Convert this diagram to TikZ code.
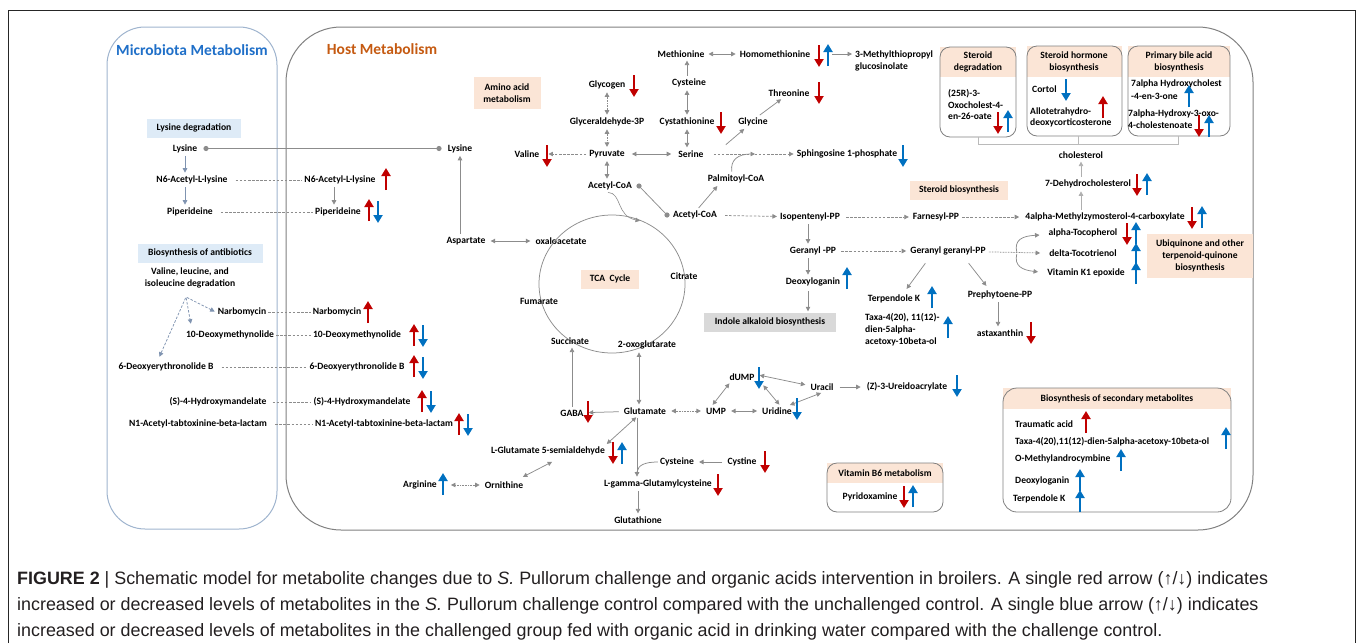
\documentclass[tikz,border=0pt]{standalone}
\usepackage{fontspec}
\setmainfont{Carlito}
\newfontfamily\capfont{Liberation Sans}
\usetikzlibrary{arrows.meta,calc}
\definecolor{peach}{HTML}{FBE5D6}
\definecolor{lblue}{HTML}{DEEBF7}
\definecolor{indgrey}{HTML}{D9D9D9}
\definecolor{redA}{HTML}{C00000}
\definecolor{blueA}{HTML}{0070C0}
\definecolor{conn}{HTML}{8C8C8C}
\definecolor{slate}{HTML}{7F93B0}
\definecolor{mbord}{HTML}{9FB4CE}
\definecolor{hbord}{HTML}{808080}
\definecolor{mtc}{HTML}{1F6FC8}
\definecolor{htc}{HTML}{C55A11}
\definecolor{capc}{HTML}{231F20}
\newcommand{\RUp}[2]{\draw[indic,redA] (#1,#2+11) -- (#1,#2-11);}
\newcommand{\RDn}[2]{\draw[indic,redA] (#1,#2-11) -- (#1,#2+11);}
\newcommand{\BUp}[2]{\draw[indic,blueA] (#1,#2+11) -- (#1,#2-11);}
\newcommand{\BDn}[2]{\draw[indic,blueA] (#1,#2-11) -- (#1,#2+11);}
\tikzset{
 t/.style={font=\bfseries\fontsize{9.6}{12}\selectfont, inner sep=2pt, align=center},
 tl/.style={t, align=left, anchor=west},
 cbase/.style={draw=conn, line width=0.75pt, shorten >=1pt, shorten <=1pt},
 ar/.style={cbase, -{Triangle[length=4.5pt,width=4.5pt]}},
 dar/.style={cbase, {Triangle[length=4.5pt,width=4.5pt]}-{Triangle[length=4.5pt,width=4.5pt]}},
 mar/.style={ar, draw=slate},
 dsh/.style={dash pattern=on 2.5pt off 1.6pt},
 dotl/.style={dash pattern=on 0.8pt off 0.8pt},
 ln/.style={draw=conn, line width=0.75pt},
 indic/.style={line width=2.3pt, -{Triangle[length=8pt,width=9pt]}},
 pbox/.style={t, fill=peach},
 pnl/.style={draw=hbord, line width=0.8pt, rounded corners=10pt},
 ttl/.style={font=\bfseries\fontsize{15.5}{18}\selectfont},
 captxt/.style={anchor=west, font=\capfont\fontsize{17.9}{22}\selectfont, text=capc, inner sep=0pt},
}
\begin{document}
\begin{tikzpicture}[x=1pt,y=-1pt]
\useasboundingbox (0,0) rectangle (1358,643);
\draw[black!85, line width=0.9pt] (8,643) -- (8,10) -- (1355,10) -- (1355,643);
% panels
\draw[mbord, line width=1pt, rounded corners=38pt] (107,27) rectangle (277,529);
\draw[hbord, line width=1pt, rounded corners=55pt] (286,27) rectangle (1253,530);
\node[ttl, text=mtc] (mtitle) at (192,50) {Microbiota Metabolism};
\node[ttl, text=htc] (htitle) at (382,49) {Host Metabolism};

% ---------- microbiota ----------
\node[t, fill=lblue, minimum width=94, minimum height=19] (mlysdeg) at (194,128) {Lysine degradation};
\node[t] (mlys) at (185,148.5) {Lysine};
\node[t] (mn6) at (192,180) {N6-Acetyl-L-lysine};
\node[t] (mpip) at (190,212) {Piperideine};
\node[t, fill=lblue, minimum width=125, minimum height=19] (mantib) at (200,253) {Biosynthesis of antibiotics};
\node[t] (mval) at (190,278) {Valine, leucine, and\\isoleucine degradation};
\coordinate (mfork) at (186,297);
\node[t] (mnarb) at (242,312) {Narbomycin};
\node[t] (m10d) at (230,335) {10-Deoxymethynolide};
\node[t] (m6d) at (166,367) {6-Deoxyerythronolide B};
\node[t] (mhyd) at (218,402) {(S)-4-Hydroxymandelate};
\node[t] (mn1) at (198,424) {N1-Acetyl-tabtoxinine-beta-lactam};

\coordinate (mlysdot) at (206,148.5);
\coordinate (hlysdot) at (439,148.5);
\node[t] (hlys) at (460,148.5) {Lysine};
\draw[ln] (mlysdot) -- (hlysdot);
\fill[conn] (mlysdot) circle (2.6);
\fill[conn] (hlysdot) circle (2.6);
\draw[mar] (mlys.south) -- (mlys.south |- mn6.north);
\draw[mar] (mlys.south |- mn6.south) -- (mlys.south |- mpip.north);
\draw[mar, dsh] (mfork) -- (mnarb.west);
\draw[mar, dsh] (mfork) -- ([shift={(-39,-4)}]m10d.north);
\draw[mar, dsh] (mfork) -- ([shift={(-7,-3)}]m6d.north);

% host side of the shared metabolites
\node[t] (hn6) at (340,180) {N6-Acetyl-L-lysine};
\node[t] (hpip) at (338,212) {Piperideine};
\node[t] (hnarb) at (337,312) {Narbomycin};
\node[t] (h10d) at (357,335) {10-Deoxymethynolide};
\node[t] (h6d) at (357,367) {6-Deoxyerythronolide B};
\node[t] (hhyd) at (362,402) {(S)-4-Hydroxymandelate};
\node[t] (hn1) at (384,424) {N1-Acetyl-tabtoxinine-beta-lactam};
\draw[ln, dsh, shorten <=6pt] (mn6) -- (hn6);
\draw[ln, dsh, shorten <=6pt] (mpip) -- (hpip);
\draw[ln, dsh] (mnarb) -- (hnarb);
\draw[ln, dsh] (m10d) -- (h10d);
\draw[ln, dsh, shorten <=6pt] (m6d) -- (h6d);
\draw[ln, dsh, shorten <=4pt] (mhyd) -- (hhyd);
\draw[ln, dsh, shorten <=6pt] (mn1) -- (hn1);
\draw[ar] ([xshift=-6]hn6.south) -- ([xshift=-6]hn6.south |- hpip.north);
\RUp{386}{179}
\RUp{369}{210} \BDn{378}{212}
\RUp{368}{312}
\RUp{414}{335} \BDn{423}{336}
\RUp{414}{366} \BDn{423}{368}
\RUp{422}{401} \BDn{431}{402}
\RUp{459}{424} \BDn{468}{425}

% ---------- amino acids ----------
\node[pbox, minimum width=67, minimum height=32] (aabox) at (507,93) {Amino acid\\metabolism};
\node[t] (glycogen) at (607,85) {Glycogen};
\node[t] (g3p) at (607,122) {Glyceraldehyde-3P};
\node[t] (pyr) at (607,154) {Pyruvate};
\node[t] (valine) at (527,154) {Valine};
\node[t] (acoa1) at (610,186) {Acetyl-CoA};
\node[t] (serine) at (691,154) {Serine};
\node[t] (cystath) at (687,122) {Cystathionine};
\node[t] (cys1) at (689,83) {Cysteine};
\node[t] (meth) at (681,54) {Methionine};
\node[t] (homometh) at (775,54) {Homomethionine};
\node[tl] (mtp) at (853,61) {3-Methylthiopropyl\\glucosinolate};
\node[t] (glycine) at (753,122) {Glycine};
\node[t] (threonine) at (789,93) {Threonine};
\node[t] (s1p) at (847,154) {Sphingosine 1-phosphate};
\node[t] (palm) at (736,179) {Palmitoyl-CoA};
\node[t] (acoa2) at (695,215) {Acetyl-CoA};
\coordinate (a1dot) at (639,186);
\coordinate (a2dot) at (667,215);
\coordinate (pj) at (756,154);

\draw[dar, dotl] (glycogen) -- (g3p);
\draw[dar, dotl] (g3p) -- (pyr);
\draw[dar] (pyr.south) -- (pyr.south |- acoa1.north);
\draw[ar, dsh] (pyr) -- ([xshift=6]valine.east);
\draw[dar, shorten <=5pt, shorten >=5pt] (pyr) -- (serine);
\draw[dar] (cystath.south) -- (cystath.south |- serine.north);
\draw[dar] (cystath.north) -- (cystath.north |- cys1.south);
\draw[ar] (cystath.north |- cys1.north) -- (cystath.north |- meth.south);
\draw[dar, shorten <=2pt, shorten >=2pt] (meth) -- (homometh);
\draw[ar] ([xshift=19]homometh.east) -- (mtp.west |- homometh.east);
\draw[ar] ([shift={(34,-3)}]serine.north) -- ([shift={(-8,0)}]glycine.south);
\draw[ar] ([shift={(6,0)}]glycine.north) -- ([shift={(-7,0)}]threonine.south);
\draw[ar, dsh, shorten <=8pt] (serine) -- (s1p);
\draw[ar] ([xshift=-4]palm.north) .. controls (730,160) and (738,154) .. (pj);
\draw[ln] (a1dot) -- (a2dot);
\fill[conn] (a1dot) circle (2.6);
\fill[conn] (a2dot) circle (2.6);
\draw[ar] ([xshift=3]acoa2.north) -- ([xshift=-18]palm.south);
\RDn{634}{86}
\RDn{547}{156}
\RDn{721}{123}
\RDn{819}{56} \BUp{828}{55}
\RDn{819}{93}
\BDn{903}{156}

% ---------- TCA ----------
\node[t] (asp) at (466,241) {Aspartate};
\node[t] (oxalo) at (561,241) {oxaloacetate};
\draw[conn, line width=0.75pt] (612,284) ellipse [x radius=73, y radius=69];
\node[pbox, minimum width=58, minimum height=19] (tca) at (610,279) {TCA~~Cycle};
\node[t] (citrate) at (684,276) {Citrate};
\node[t] (fumarate) at (539,301) {Fumarate};
\node[t] (succinate) at (570,341) {Succinate};
\node[t] (oxoglut) at (647,345) {2-oxoglutarate};
\coordinate (tcain) at (641,221);
\draw[ar, line width=0.6pt] ([xshift=-3]acoa1.south) .. controls (622,193) and (616,216) .. (tcain);
\draw[dar, shorten <=3pt, shorten >=3pt] (asp) -- (oxalo);
\draw[ar] (hlys.south |- asp.north) -- (hlys.south);

% ---------- steroid / terpenoid ----------
\node[pbox, minimum width=98, minimum height=19] (stbio) at (959,190) {Steroid biosynthesis};
\node[t] (isopent) at (810,217) {Isopentenyl-PP};
\node[t] (farnesyl) at (936,217) {Farnesyl-PP};
\node[t] (fourA) at (1105,217) {4alpha-Methylzymosterol-4-carboxylate};
\node[t] (geranyl) at (813,251) {Geranyl -PP};
\node[t] (ggpp) at (948,251) {Geranyl geranyl-PP};
\node[t] (deoxylog) at (813,282) {Deoxyloganin};
\node[t, fill=indgrey, minimum width=132, minimum height=19] (indole) at (770,322) {Indole alkaloid biosynthesis};
\node[t] (terpK) at (894,299) {Terpendole K};
\node[tl] (taxa) at (863,330) {Taxa-4(20), 11(12)-\\dien-5alpha-\\acetoxy-10beta-ol};
\node[t] (prephyt) at (1000,295) {Prephytoene-PP};
\node[t] (astax) at (1000,333) {astaxanthin};
\node[t] (atoc) at (1083,233) {alpha-Tocopherol};
\node[t] (dtoc) at (1083,253) {delta-Tocotrienol};
\node[t] (vitk) at (1086,273) {Vitamin K1 epoxide};
\node[pbox, minimum width=106, minimum height=44] (ubi) at (1200,256) {Ubiquinone and other\\terpenoid-quinone\\biosynthesis};
\node[t] (dehydro) at (1088,184) {7-Dehydrocholesterol};
\node[t] (chol) at (1081,155) {cholesterol};
\coordinate (fk) at (1017,253);

\draw[ar, dsh, shorten <=6pt] (acoa2) -- (isopent);
\draw[ar, dsh, shorten <=4pt, shorten >=2pt] (isopent) -- (farnesyl);
\draw[ar, dsh, shorten >=4pt] (farnesyl) -- (fourA);
\draw[ar] ([xshift=-2]isopent.south) -- ([xshift=-2]isopent.south |- geranyl.north);
\draw[ar, dsh, shorten <=3pt, shorten >=2pt] (geranyl) -- (ggpp);
\draw[ar] ([xshift=-5]geranyl.south) -- ([xshift=-5]geranyl.south |- deoxylog.north);
\draw[ar, shorten <=3pt] ([xshift=-5]geranyl.south |- deoxylog.south) -- ([xshift=-5]geranyl.south |- indole.north);
\draw[ar] ([shift={(-22,5)}]ggpp.south) -- ([shift={(12,-3)}]terpK.north);
\draw[ar] ([shift={(20,5)}]ggpp.south) -- ([shift={(-13,-2)}]prephyt.north);
\draw[ar] ([xshift=-2]prephyt.south) -- ([xshift=-2]prephyt.south |- astax.north);
\draw[ar, dotl] (ggpp) -- ([xshift=-6]dtoc.west);
\draw[ar] (fk) .. controls (1014,240) and (1022,236) .. ([shift={(-6,2)}]atoc.west);
\draw[ar] (fk) .. controls (1014,266) and (1022,270) .. ([shift={(-6,-1)}]vitk.west);
\draw[ar, draw=conn!70] (chol.south |- fourA.north) -- (chol.south |- dehydro.south);
\draw[ar, draw=conn!70] (chol.south |- dehydro.north) -- (chol.south);
\BUp{847}{278}
\BUp{932}{297}
\BUp{948}{327}
\RDn{1031}{333}
\RDn{1192}{218} \BUp{1202}{217}
\RDn{1127}{234} \BUp{1136}{233}
\BUp{1136}{254}
\BUp{1136}{273}
\RDn{1137}{185} \BUp{1147}{184}

% ---------- steroid panels ----------
\fill[peach] (940,47) rectangle (1016,77);
\draw[pnl] (940,47) rectangle (1016,137);
\node[t] (sdegh) at (978,62) {Steroid\\degradation};
\node[tl, font=\bfseries\fontsize{9.6}{11.5}\selectfont] (sdegc) at (946,104.5) {(25R)-3-\\Oxocholest-4-\\en-26-oate};
\RDn{998}{123} \BUp{1008}{121}

\fill[peach] (1027,46) rectangle (1122,77);
\draw[pnl] (1027,46) rectangle (1122,136);
\node[t] (shormh) at (1074,62) {Steroid hormone\\biosynthesis};
\node[tl] (cortol) at (1030,89) {Cortol};
\node[tl, font=\bfseries\fontsize{9.6}{11}\selectfont] (allo) at (1028,117.5) {Allotetrahydro-\\deoxycorticosterone};
\BDn{1066}{90}
\RUp{1103}{107}

\fill[peach] (1128,46) rectangle (1230,77);
\draw[pnl] (1128,46) rectangle (1230,136);
\node[t] (pbileh) at (1179,62) {Primary bile acid\\biosynthesis};
\node[tl, font=\bfseries\fontsize{9.6}{13}\selectfont] (hc1) at (1129,89.5) {7alpha Hydroxycholest\\-4-en-3-one};
\node[tl, font=\bfseries\fontsize{9.6}{12}\selectfont] (hc2) at (1126,119) {7alpha-Hydroxy-3-oxo-\\4-cholestenoate};
\BUp{1189}{96}
\RDn{1199}{126} \BUp{1209}{126}

\coordinate (br1) at (978,137);
\coordinate (br2) at (1078,136);
\coordinate (br3) at (1178,136);
\draw[draw=conn!60, line width=0.7pt] (br1) -- (978,144) -- (1178,144) -- (br3);
\draw[draw=conn!60, line width=0.7pt] (br2) -- (1078,144);

% ---------- lower part ----------
\node[t] (gaba) at (572,413) {GABA};
\node[t] (glutamate) at (645,411) {Glutamate};
\node[t] (ump) at (716,411) {UMP};
\node[t] (uridine) at (777,411) {Uridine};
\node[t] (dump) at (742,377) {dUMP};
\node[t] (uracil) at (822,387) {Uracil};
\node[t] (ureido) at (907,387) {(Z)-3-Ureidoacrylate};
\node[t] (lgsa) at (548,451) {L-Glutamate 5-semialdehyde};
\node[t] (ornithine) at (504,485) {Ornithine};
\node[t] (arginine) at (420,485) {Arginine};
\node[t] (cys2) at (677,462) {Cysteine};
\node[t] (cystine) at (742,462) {Cystine};
\node[t] (lgamma) at (658,484) {L-gamma-Glutamylcysteine};
\node[t] (glutathione) at (638,520) {Glutathione};
\coordinate (gj) at (637,472);

\draw[ar] (gaba.north) -- (gaba.north |- succinate.south);
\draw[dar] ([xshift=-6]glutamate.north) -- ([xshift=-6]glutamate.north |- oxoglut.south);
\draw[ar, shorten <=3pt, shorten >=3pt] (glutamate) -- (gaba);
\draw[dar, dotl, shorten <=3pt, shorten >=3pt] (glutamate) -- (ump);
\draw[dar, shorten <=3pt, shorten >=3pt] (ump) -- (uridine);
\draw[dar] ([xshift=-4]ump.north) -- ([xshift=-12]dump.south);
\draw[dar] ([shift={(2,-2)}]dump.east) -- ([shift={(-2,-2)}]uracil.west);
\draw[dar] ([shift={(6,2)}]dump.south east) -- ([xshift=3]uridine.north);
\draw[dar] ([xshift=0]uracil.south) -- ([xshift=12]uridine.north);
\draw[ar, shorten <=4pt, shorten >=4pt] (uracil) -- (ureido);
\draw[dar] ([xshift=-8]glutamate.south) -- ([xshift=58]lgsa.north);
\draw[dar] ([shift={(5,4)}]lgsa.south) -- ([shift={(18,-2)}]ornithine.north);
\draw[dar, dotl, shorten <=12pt, shorten >=3pt] (arginine) -- (ornithine);
\draw[ar] ([xshift=-8]glutamate.south) -- ([xshift=-8]glutamate.south |- lgamma.north);
\draw[ln] (cys2.west) .. controls (645,462) and (638,465) .. (gj);
\draw[ar, shorten <=3pt, shorten >=3pt] (cystine) -- (cys2);
\draw[ar] ([xshift=-20]lgamma.south) -- ([xshift=-20]lgamma.south |- glutathione.north);
\RDn{588}{412}
\BDn{797}{409}
\BDn{759}{378}
\BDn{957}{386}
\RDn{613}{453} \BUp{622}{453}
\BUp{443}{484}
\RDn{765}{462}
\RDn{718}{485}

% vitamin B6 panel
\fill[peach] (827,463) rectangle (943,483);
\draw[pnl] (827,463) rectangle (943,512);
\node[t] (vb6h) at (885,473.5) {Vitamin B6 metabolism};
\node[t] (pyridox) at (870,497) {Pyridoxamine};
\RDn{904}{497} \BUp{913}{496}

% secondary metabolites panel
\fill[peach] (1003,388) rectangle (1231,409);
\draw[pnl, rounded corners=14pt] (1003,388) rectangle (1231,512);
\node[t] (sech) at (1117,399) {Biosynthesis of secondary metabolites};
\node[tl] (trau) at (1013,424) {Traumatic acid};
\node[tl] (taxa2) at (1013,442) {Taxa-4(20),11(12)-dien-5alpha-acetoxy-10beta-ol};
\node[tl] (omethyl) at (1013,459) {O-Methylandrocymbine};
\node[tl] (deox2) at (1013,481) {Deoxyloganin};
\node[tl] (terpK2) at (1011,499) {Terpendole K};
\RUp{1086}{422}
\BUp{1226}{438}
\BUp{1121}{460}
\BUp{1080}{480}
\BUp{1080}{501}

% ---------- caption ----------
\node[captxt] (cap1) at (17,580) {\textbf{FIGURE 2} | Schematic model for metabolite changes due to \textit{S.} Pullorum challenge and organic acids intervention in broilers. A single red arrow (↑/↓) indicates};
\node[captxt] (cap2) at (17,606) {increased or decreased levels of metabolites in the \textit{S.} Pullorum challenge control compared with the unchallenged control. A single blue arrow (↑/↓) indicates};
\node[captxt] (cap3) at (17,632) {increased or decreased levels of metabolites in the challenged group fed with organic acid in drinking water compared with the challenge control.};
\end{tikzpicture}
\end{document}
